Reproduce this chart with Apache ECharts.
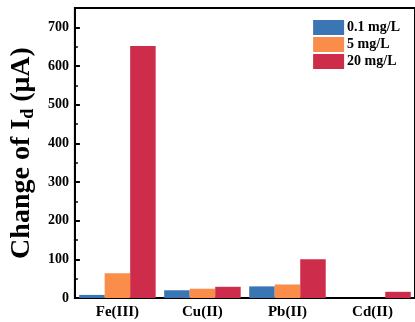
<!DOCTYPE html>
<html>
<head>
<meta charset="utf-8">
<script src="https://cdn.jsdelivr.net/npm/echarts@6/dist/echarts.min.js"></script>
<style>
  html, body { margin: 0; padding: 0; background: #fff; }
  #chart { width: 415px; height: 322px; }
</style>
</head>
<body>
<div id="chart"></div>
<script>
// Ion categories and response change (μA) at three concentrations
const ions = ['Fe(III)', 'Cu(II)', 'Pb(II)', 'Cd(II)'];
const seriesNames = ['0.1 mg/L', '5 mg/L', '20 mg/L'];
const conc01 = [8, 20, 30, 0];
const conc5 = [64, 24, 35, 0];
const conc20 = [652, 29, 100, 16];
const colors = ['#3a76b4', '#fb8d4b', '#cd2d4a'];

const serif = 'Liberation Serif, Times New Roman, serif';
const chart = echarts.init(document.getElementById('chart'), null, { renderer: 'canvas' });

const dataSets = [conc01, conc5, conc20];

chart.setOption({
  animation: false,
  color: colors,
  grid: {
    left: 74, top: 8, width: 342, bottom: 24,
    show: true, borderColor: '#000', borderWidth: 2, backgroundColor: 'transparent'
  },
  legend: {
    right: 10, top: 15, orient: 'vertical',
    itemWidth: 31, itemHeight: 15, itemGap: 2,
    icon: 'rect',
    textStyle: { fontFamily: serif, fontWeight: 'bold', fontSize: 14, color: '#000', padding: [0, 0, 0, -2] },
    data: seriesNames
  },
  xAxis: {
    type: 'category',
    data: ions,
    axisLine: { lineStyle: { color: '#000', width: 2 } },
    axisTick: { show: false },
    axisLabel: { fontFamily: serif, fontWeight: 'bold', fontSize: 15, color: '#000', margin: 7 }
  },
  yAxis: {
    type: 'value',
    min: 0, max: 750, interval: 100,
    name: '{a|Change of I}{b|d}{a| (μA)}',
    nameLocation: 'middle',
    nameGap: 29,
    nameTextStyle: {
      rich: {
        a: { fontFamily: serif, fontWeight: 'bold', fontSize: 28, color: '#000' },
        b: { fontFamily: serif, fontWeight: 'bold', fontSize: 18, color: '#000', verticalAlign: 'bottom', padding: [12, 0, 0, 0] }
      }
    },
    axisLine: { show: true, lineStyle: { color: '#000', width: 2 } },
    axisTick: { show: true, inside: true, length: 5, lineStyle: { color: '#000', width: 2 } },
    minorTick: { show: true, splitNumber: 2, length: 3, lineStyle: { color: '#000', width: 1.5 } },
    splitLine: { show: false },
    axisLabel: { fontFamily: serif, fontWeight: 'bold', fontSize: 14, color: '#000', margin: 6, showMaxLabel: false }
  },
  series: seriesNames.map((name, i) => ({
    name: name,
    type: 'bar',
    data: dataSets[i],
    barGap: '0%',
    barCategoryGap: '10%'
  }))
});
</script>
</body>
</html>
